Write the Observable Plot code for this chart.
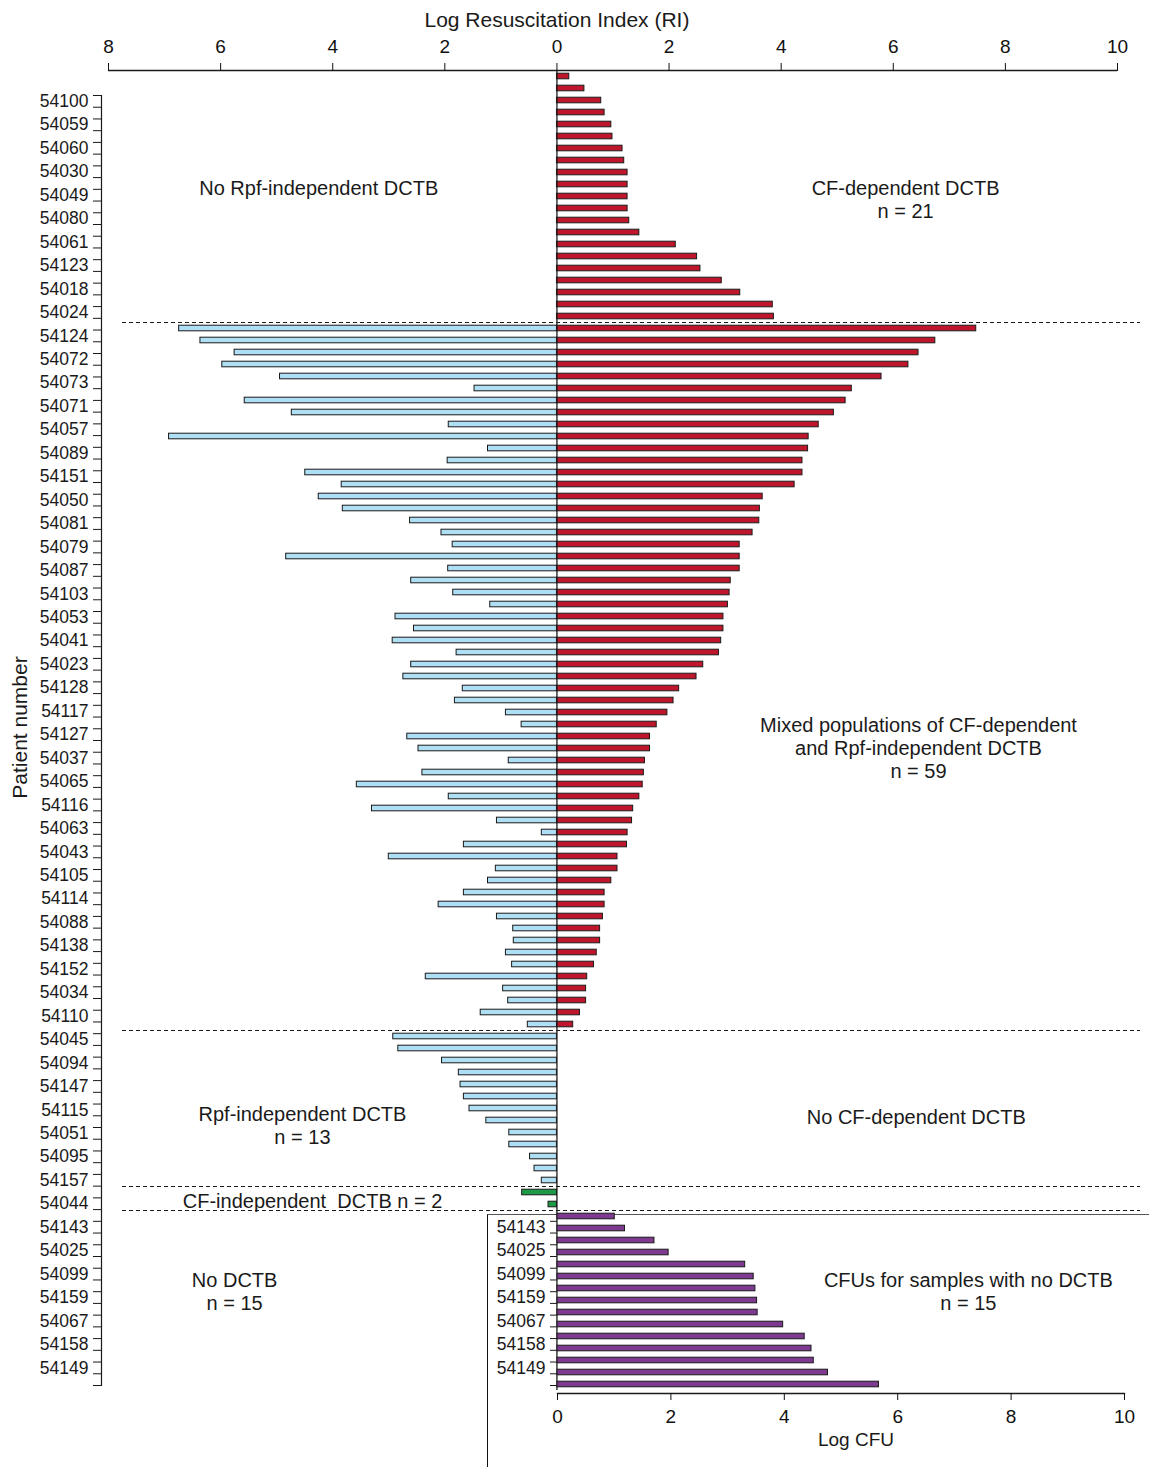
<!DOCTYPE html>
<html><head><meta charset="utf-8">
<script src="https://cdn.jsdelivr.net/npm/d3@7"></script>
<script src="https://cdn.jsdelivr.net/npm/@observablehq/plot@0.6"></script>
<style>
body{margin:0;background:#fff;}
#chart{position:relative;width:1149px;height:1467px;font-family:"Liberation Sans",Arial,Helvetica,sans-serif;}
#chart svg{position:absolute;left:0;top:0;}
#box{position:absolute;left:487px;top:1214px;width:662px;height:253px;border-top:1.5px solid #555;border-left:1.2px solid #111;box-sizing:border-box;}
</style></head><body><div id="chart"><div id="box"></div></div>
<script>
// ---------------- data ----------------
const cfDependentRI = [0.22, 0.49, 0.79, 0.85, 0.97, 0.99, 1.17, 1.20, 1.26, 1.26, 1.26, 1.26, 1.29, 1.47, 2.12, 2.50, 2.56, 2.94, 3.27, 3.85, 3.87];
const mixedCfRI = [7.48, 6.75, 6.45, 6.27, 5.79, 5.26, 5.15, 4.94, 4.67, 4.49, 4.48, 4.38, 4.38, 4.24, 3.67, 3.62, 3.61, 3.49, 3.26, 3.26,
  3.26, 3.10, 3.08, 3.05, 2.97, 2.97, 2.93, 2.89, 2.61, 2.49, 2.18, 2.08, 1.97, 1.78, 1.66, 1.66, 1.57, 1.55, 1.53, 1.47,
  1.36, 1.34, 1.26, 1.25, 1.08, 1.08, 0.97, 0.85, 0.85, 0.82, 0.77, 0.77, 0.71, 0.66, 0.54, 0.52, 0.52, 0.41, 0.29];
const mixedRpfRI = [6.74, 6.36, 5.75, 5.97, 4.94, 1.47, 5.57, 4.73, 1.93, 6.92, 1.23, 1.95, 4.49, 3.84, 4.25, 3.82, 2.62, 2.06, 1.86, 4.83,
  1.94, 2.60, 1.85, 1.19, 2.88, 2.55, 2.93, 1.79, 2.60, 2.74, 1.68, 1.82, 0.91, 0.63, 2.67, 2.47, 0.86, 2.40, 3.57, 1.93,
  3.30, 1.07, 0.27, 1.66, 3.00, 1.09, 1.23, 1.66, 2.11, 1.07, 0.78, 0.77, 0.91, 0.80, 2.34, 0.96, 0.87, 1.36, 0.52];
const rpfIndependentRI = [2.92, 2.83, 2.05, 1.75, 1.72, 1.66, 1.56, 1.26, 0.85, 0.85, 0.48, 0.40, 0.27];
const cfIndependentRI = [0.62, 0.15];
const noDctbLogCFU = [1.01, 1.19, 1.71, 1.96, 3.31, 3.46, 3.49, 3.52, 3.53, 3.98, 4.36, 4.48, 4.52, 4.77, 5.67];
const patientLabels = ["54100","54059","54060","54030","54049","54080","54061","54123","54018","54024",
  "54124","54072","54073","54071","54057","54089","54151","54050","54081","54079","54087","54103","54053","54041","54023",
  "54128","54117","54127","54037","54065","54116","54063","54043","54105","54114","54088","54138","54152","54034","54110",
  "54045","54094","54147","54115","54051","54095","54157","54044",
  "54143","54025","54099","54159","54067","54158","54149"];
const riTicks = [-8, -6, -4, -2, 0, 2, 4, 6, 8, 10];
const cfuTicks = [0, 2, 4, 6, 8, 10];
const titleText = "Log Resuscitation Index (RI)";
const yTitle = "Patient number";
const cfuTitle = "Log CFU";

// ---------------- build table ----------------
const bars = [];
let r = 0;
cfDependentRI.forEach(v => bars.push({row: r++, x2: v, group: "cf"}));
const mixedStart = r;
mixedCfRI.forEach((v, i) => { bars.push({row: r, x2: v, group: "cf"}); bars.push({row: r, x2: -mixedRpfRI[i], group: "rpf"}); r++; });
const rpfStart = r;
rpfIndependentRI.forEach(v => bars.push({row: r++, x2: -v, group: "rpf"}));
const cfIndStart = r;
cfIndependentRI.forEach(v => bars.push({row: r++, x2: -v, group: "cfind"}));
const noStart = r;
const cfuBars = noDctbLogCFU.map(v => ({row: r++, x2: v}));
const nRows = r;
const dividers = [mixedStart, rpfStart, cfIndStart, noStart];

const labelCats = patientLabels.map((_, i) => 2 * i);
const insetLabelCats = labelCats.filter(c => c >= noStart);

// annotation layout (x in RI units, y in row units)
const notes = [
  {text: "No Rpf-independent DCTB", x: -4.25, y: 9.75},
  {text: "CF-dependent DCTB\nn = 21", x: 6.22, y: 10.7},
  {text: "Mixed populations of CF-dependent\nand Rpf-independent DCTB\nn = 59", x: 6.45, y: 56.4},
  {text: "Rpf-independent DCTB\nn = 13", x: -4.54, y: 87.9},
  {text: "No CF-dependent DCTB", x: 6.41, y: 87.2},
  {text: "CF-independent\u00a0 DCTB n = 2", x: -4.36, y: 94.2},
  {text: "No DCTB\nn = 15", x: -5.75, y: 101.7},
  {text: "CFUs for samples with no DCTB\nn = 15", x: 7.34, y: 101.7}
];

const FONT = "Liberation Sans, Arial, Helvetica, sans-serif";
const W = 1149, H = 1467;
const baseStyle = {background: "transparent", fontFamily: FONT, fontSize: "17px", color: "#111", overflow: "visible"};
const INK = "#1a1a1a";

// ---------------- main plot ----------------
const main = Plot.plot({
  width: W, height: H,
  marginTop: 70, marginBottom: 77, marginLeft: 108, marginRight: 32,
  style: baseStyle,
  x: {domain: [-8, 10]},
  y: {domain: [0, nRows], reverse: true, axis: null},
  color: {domain: ["cf", "rpf", "cfind"], range: ["#c0162c", "#aedff4", "#1d9a46"]},
  marks: [
    Plot.rectX(bars, {x1: 0, x2: "x2", y1: "row", y2: d => d.row + 1, fill: "group", stroke: INK, strokeWidth: 1, insetTop: 3.2, insetBottom: 3.2}),
    Plot.ruleY(dividers, {stroke: INK, strokeWidth: 1, strokeDasharray: "4,3", insetLeft: 14, insetRight: -23}),
    Plot.ruleX([0], {stroke: INK, strokeWidth: 1.3}),
    Plot.ruleY([0], {stroke: INK, strokeWidth: 1.3}),
    Plot.axisX({anchor: "top", ticks: riTicks, tickFormat: d => Math.abs(d), tickSize: 8, tickPadding: 10, fontSize: 19, label: null}),
    Plot.text([titleText], {x: 0, frameAnchor: "top", dy: -58, fontSize: 21, fill: INK}),
    Plot.text(notes, {x: "x", y: "y", text: "text", fontSize: 20, lineHeight: 1.15, fill: INK})
  ]
});

// ---------------- left patient axis (own category spacing) ----------------
const axisPlot = Plot.plot({
  width: W, height: H,
  marginTop: 95, marginBottom: 82, marginLeft: 101, marginRight: 32,
  style: baseStyle,
  y: {domain: [0, nRows], reverse: true},
  marks: [
    Plot.frame({anchor: "left", stroke: INK, strokeWidth: 1.2}),
    Plot.axisY({anchor: "left", ticks: d3.range(0, nRows + 1), tickFormat: () => "", tickSize: 8, stroke: INK, label: null}),
    Plot.axisY({anchor: "left", ticks: labelCats.map(c => c + 0.5), tickFormat: d => patientLabels[(d - 0.5) / 2], tickSize: 0, tickPadding: 13, fontSize: 17.5, fill: INK, label: null}),
    Plot.text([yTitle], {frameAnchor: "left", textAnchor: "middle", rotate: -90, dx: -81, dy: -13, fontSize: 21, fill: INK})
  ]
});

// ---------------- inset: CFUs for samples with no DCTB ----------------
const inset = Plot.plot({
  width: W, height: H,
  marginTop: 70, marginBottom: 74, marginLeft: 557, marginRight: 25,
  insetBottom: 3,
  style: baseStyle,
  x: {domain: [0, 10]},
  y: {domain: [0, nRows], reverse: true, axis: null},
  marks: [
    Plot.rectX(cfuBars, {x1: 0, x2: "x2", y1: "row", y2: d => d.row + 1, fill: "#7d3a8f", stroke: INK, strokeWidth: 1, insetTop: 3.2, insetBottom: 3.2}),
    Plot.frame({anchor: "bottom", stroke: INK, strokeWidth: 1.3}),
    Plot.axisX({anchor: "bottom", ticks: cfuTicks, tickSize: 7, tickPadding: 9, fontSize: 19, label: null}),
    Plot.text([cfuTitle], {frameAnchor: "bottom", dx: 15, dy: 52, fontSize: 19, fill: INK})
  ]
});

const insetAxis = Plot.plot({
  width: W, height: H,
  marginTop: 95, marginBottom: 82, marginLeft: 557, marginRight: 25,
  style: baseStyle,
  y: {domain: [0, nRows], reverse: true},
  marks: [
    Plot.axisY({anchor: "left", ticks: d3.range(insetLabelCats[0], nRows + 1), tickFormat: () => "", tickSize: 7, stroke: INK, label: null}),
    Plot.axisY({anchor: "left", ticks: insetLabelCats.map(c => c + 0.5), tickFormat: d => patientLabels[(d - 0.5) / 2], tickSize: 0, tickPadding: 12, fontSize: 17.5, fill: INK, label: null})
  ]
});

const chart = document.getElementById("chart");
chart.append(main, inset, axisPlot, insetAxis);
</script>
</body></html>
